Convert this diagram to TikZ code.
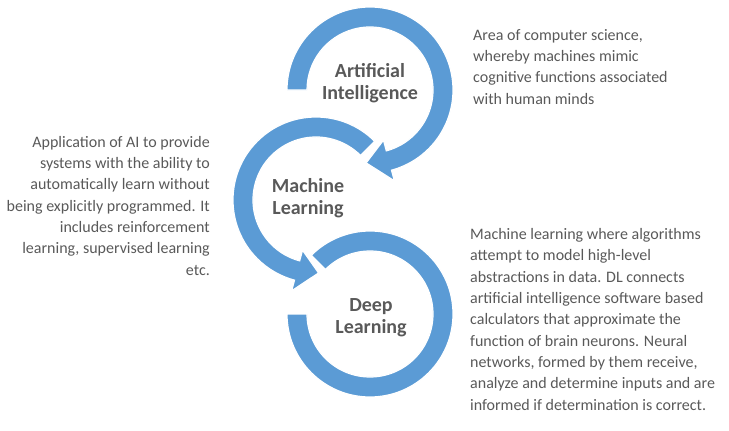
\documentclass[tikz,border=0pt]{standalone}
\usepackage{fontspec}
\setmainfont{Carlito}
\definecolor{ringblue}{HTML}{5B9BD5}
\definecolor{titlegray}{HTML}{595959}
\definecolor{descgray}{HTML}{595959}
\tikzset{
  ring/.style={fill=ringblue, draw=white, line width=1.2pt},
  titletext/.style={font=\fontsize{20}{22}\selectfont\bfseries, text=titlegray, align=center, inner sep=0pt, anchor=base},
  desctext/.style={font=\fontsize{16}{21.3}\selectfont, text=descgray, inner sep=0pt}
}
\begin{document}
\begin{tikzpicture}[x=1pt,y=-1pt]
\useasboundingbox (0,0) rectangle (729,431);
% AI ring
\fill[ring] ([shift={(370,90)}]-180:83) arc[start angle=-180, end angle=75, radius=83]
  -- ([shift={(370,90)}]75:94) -- ([shift={(370,90)}]93:73) -- ([shift={(370,90)}]75:52)
  -- ([shift={(370,90)}]75:63) arc[start angle=75, end angle=-180, radius=63] -- cycle;
% ML ring
\fill[ring] ([shift={(316,200)}]-45:83) arc[start angle=-45, end angle=-255, radius=83]
  -- ([shift={(316,200)}]-255:94) -- ([shift={(316,200)}]-272:73) -- ([shift={(316,200)}]-255:52)
  -- ([shift={(316,200)}]-255:63) arc[start angle=-255, end angle=-45, radius=63] -- cycle;
% DL ring
\fill[ring] ([shift={(370,314)}]-180:83) arc[start angle=-180, end angle=-495, radius=83]
  -- ([shift={(370,314)}]-495:63) arc[start angle=-495, end angle=-180, radius=63] -- cycle;
% titles (anchor = baseline of last line)
\node[titletext] (ait) at (370,99) {Artificial\\Intelligence};
\node[titletext] (mlt) at (308,214) {Machine\\Learning};
\node[titletext] (dlt) at (371,333) {Deep\\Learning};
% descriptions (anchor = baseline of last line)
\node[desctext, align=left, anchor=base west] (aid) at (473,104) {Area of computer science,\\whereby machines mimic\\cognitive functions associated\\with human minds};
\node[desctext, align=right, anchor=base east] (mld) at (210,275) {Application of AI to provide\\systems with the ability to\\automatically learn without\\being explicitly programmed. It\\includes reinforcement\\learning, supervised learning\\etc.};
\node[desctext, align=left, anchor=base west] (dld) at (470,410) {Machine learning where algorithms\\attempt to model high-level\\abstractions in data. DL connects\\artificial intelligence software based\\calculators that approximate the\\function of brain neurons. Neural\\networks, formed by them receive,\\analyze and determine inputs and are\\informed if determination is correct.};
\end{tikzpicture}
\end{document}
